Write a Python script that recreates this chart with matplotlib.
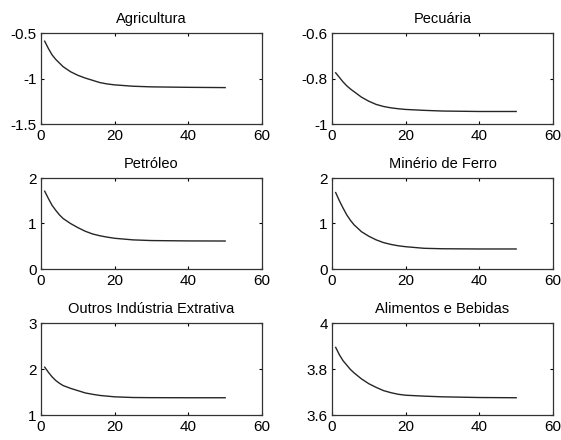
import matplotlib
matplotlib.use("Agg")
import matplotlib.pyplot as plt

plt.rcParams['font.family'] = ['Liberation Sans', 'DejaVu Sans']

x = [1, 2, 3, 4, 5, 6, 8, 10, 12, 14, 16, 18, 20, 25, 30, 40, 50]

agricultura = [-0.59, -0.67, -0.74, -0.79, -0.83, -0.87, -0.925, -0.965, -0.995,
               -1.02, -1.045, -1.06, -1.07, -1.085, -1.092, -1.097, -1.10]
pecuaria = [-0.775, -0.795, -0.815, -0.832, -0.846, -0.858, -0.882, -0.90, -0.914,
            -0.923, -0.929, -0.933, -0.936, -0.94, -0.943, -0.945, -0.945]
petroleo = [1.71, 1.55, 1.40, 1.29, 1.19, 1.11, 1.00, 0.91, 0.83,
            0.77, 0.73, 0.70, 0.675, 0.64, 0.625, 0.617, 0.615]
minerio = [1.68, 1.50, 1.34, 1.19, 1.07, 0.97, 0.82, 0.72, 0.64,
           0.58, 0.54, 0.51, 0.49, 0.455, 0.445, 0.44, 0.44]
outros = [2.04, 1.93, 1.83, 1.75, 1.69, 1.64, 1.58, 1.53, 1.48,
          1.45, 1.425, 1.41, 1.395, 1.38, 1.377, 1.375, 1.375]
alimentos = [3.894, 3.862, 3.836, 3.817, 3.798, 3.783, 3.757, 3.736, 3.72,
             3.706, 3.697, 3.69, 3.686, 3.682, 3.679, 3.676, 3.675]

titles = ["Agricultura", "Pecuária", "Petróleo", "Minério de Ferro",
          "Outros Indústria Extrativa", "Alimentos e Bebidas"]
series = [agricultura, pecuaria, petroleo, minerio, outros, alimentos]
ylims = [(-1.5, -0.5), (-1.0, -0.6), (0, 2), (0, 2), (1, 3), (3.6, 4.0)]
yticks = [[-1.5, -1, -0.5], [-1, -0.8, -0.6], [0, 1, 2], [0, 1, 2], [1, 2, 3], [3.6, 3.8, 4]]
yticklabels = [["-1.5", "-1", "-0.5"], ["-1", "-0.8", "-0.6"], ["0", "1", "2"],
               ["0", "1", "2"], ["1", "2", "3"], ["3.6", "3.8", "4"]]
xticks = [0, 20, 40, 60]

W, H = 561, 440
fig = plt.figure(figsize=(W / 100, H / 100), dpi=100)

lefts = [41, 332]
widths = [221, 221]
tops = [33, 178, 323]
heights = [91, 91, 92]

for i in range(6):
    r, c = divmod(i, 2)
    l = lefts[c]
    t = tops[r]
    ax = fig.add_axes([l / W, (H - t - heights[r]) / H, widths[c] / W, heights[r] / H])
    ax.plot(x, series[i], color='#262626', lw=1.0)
    ax.set_xlim(0, 60)
    ax.set_ylim(*ylims[i])
    ax.set_xticks(xticks)
    ax.set_xticklabels([str(v) for v in xticks])
    ax.set_yticks(yticks[i])
    ax.set_yticklabels(yticklabels[i])
    ax.tick_params(direction='in', length=2.5, width=0.8, top=True, right=True,
                   labelsize=11, colors='black')
    ax.tick_params(axis='x', pad=3.5)
    ax.tick_params(axis='y', pad=3.0)
    for s in ax.spines.values():
        s.set_linewidth(0.9)
        s.set_color('#333333')
    ax.set_title(titles[i], fontsize=10.5, pad=7)

fig.savefig("out.png", dpi=100, facecolor='white')
